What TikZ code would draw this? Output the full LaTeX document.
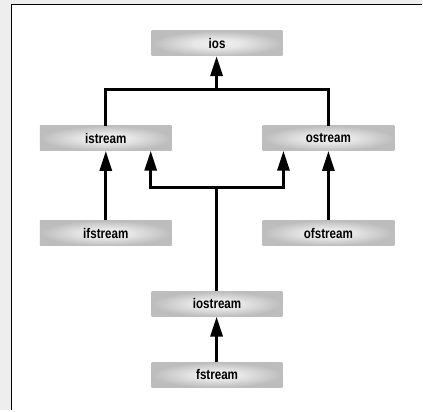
\documentclass[tikz,border=0pt]{standalone}
\usepackage{fontspec}
\setmainfont{Liberation Sans}[FakeStretch=0.83]
\usetikzlibrary{arrows.meta}
\pgfdeclareradialshading{boxshade}{\pgfpoint{0bp}{0bp}}{%
  color(0bp)=(white!94!black);
  color(9bp)=(white!91!black);
  color(25bp)=(white!74!black);
  color(50bp)=(white!74!black)}
\definecolor{pagebg}{HTML}{EEEEEE}
\tikzset{
  cls/.style={shading=boxshade, minimum width=131pt, minimum height=25pt,
    inner sep=0pt, font=\fontsize{14}{16}\selectfont\bfseries},
  conn/.style={line width=3pt, line join=miter},
  arr/.style={conn, -{Triangle[length=20pt,width=12pt]}}
}
\begin{document}
\begin{tikzpicture}[x=1pt,y=-1pt]
\fill[pagebg] (0,0) rectangle (423,411);
\fill[white] (11.5,4.5) rectangle (423,411);
\draw[line width=1.6pt] (11.5,411) -- (11.5,4.5) -- (423,4.5);
\useasboundingbox (0,0) rectangle (423,411);

\node[cls] (ios) at (217.5,43.5) {ios};
\node[cls, minimum width=132pt] (istream) at (106,138.5) {istream};
\node[cls, minimum width=132pt] (ostream) at (329,138.5) {ostream};
\node[cls, minimum width=132pt] (ifstream) at (106,233.5) {ifstream};
\node[cls, minimum width=132pt] (ofstream) at (329,233.5) {ofstream};
\node[cls] (iostream) at (217.5,304.5) {iostream};
\node[cls] (fstream) at (217.5,375.5) {fstream};

\coordinate (topbar) at (217,90);
\coordinate (midbar) at (217,188);
\coordinate (itgt) at (151,151);
\coordinate (otgt) at (284,151);

\draw[conn] (istream.north) -- (istream.north |- topbar) -- (ostream.north |- topbar) -- (ostream.north);
\draw[arr] (topbar) -- (topbar |- ios.south);
\draw[arr] (ifstream.north) -- (istream.south);
\draw[arr] (ofstream.north) -- (ostream.south);
\draw[arr] (iostream.north -| midbar) -- (midbar) -| (itgt);
\draw[arr] (midbar) -| (otgt);
\draw[arr] (fstream.north -| midbar) -- (iostream.south -| midbar);
\end{tikzpicture}
\end{document}
